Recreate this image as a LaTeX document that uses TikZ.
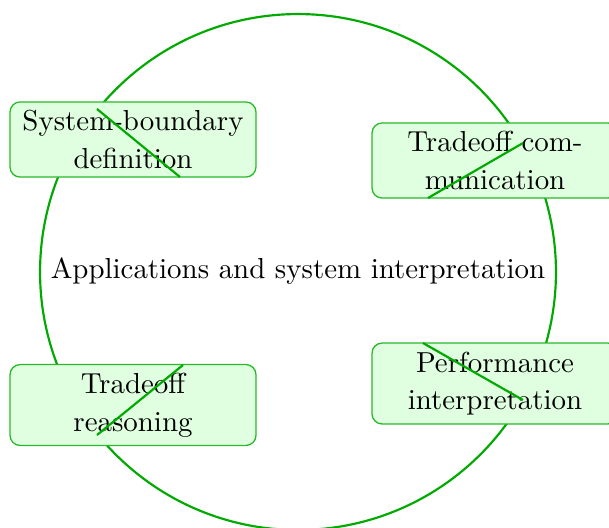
\documentclass[tikz,border=0pt]{standalone}
\usetikzlibrary{calc}
\definecolor{ringgreen}{RGB}{0,170,0}
\definecolor{boxfill}{RGB}{224,255,224}
\definecolor{boxline}{RGB}{40,185,40}
\tikzset{
  ring/.style={circle, draw=ringgreen, line width=0.75pt, minimum size=178.5pt, inner sep=0pt},
  topic/.style={draw=boxline, line width=0.45pt, fill=boxfill, rounded corners=3.5pt,
    align=center, minimum width=85.1pt, inner sep=2pt, font=\fontsize{10}{13}\selectfont},
  link/.style={draw=ringgreen, line width=0.75pt}
}
\begin{document}
\begin{tikzpicture}[x=0.346pt, y=-0.346pt]
\useasboundingbox (0,0) rectangle (609,527);
\clip (0,0) rectangle (609,527);
\node[ring] (c) at (298,272) {};
\node (ct) at (298,271) {Applications and system interpretation};
\node[topic, minimum height=26pt] (n1) at (133,139.5) {System-boundary\\definition};
\node[topic, minimum height=26pt] (n2) at (495,160.5) {Tradeoff com-\\munication};
\node[topic, minimum height=28pt] (n3) at (133,405) {Tradeoff\\reasoning};
\node[topic, minimum height=28pt] (n4) at (495,383.5) {Performance\\interpretation};
\coordinate (a1) at (180,177);
\coordinate (b1) at (97,109);
\coordinate (a2) at (428,198);
\coordinate (b2) at (523,143);
\coordinate (a3) at (97,435);
\coordinate (b3) at (183,365);
\coordinate (a4) at (423,343);
\coordinate (b4) at (523,400);
\draw[link] (a1) -- (b1);
\draw[link] (a2) -- (b2);
\draw[link] (a3) -- (b3);
\draw[link] (a4) -- (b4);
\end{tikzpicture}
\end{document}
